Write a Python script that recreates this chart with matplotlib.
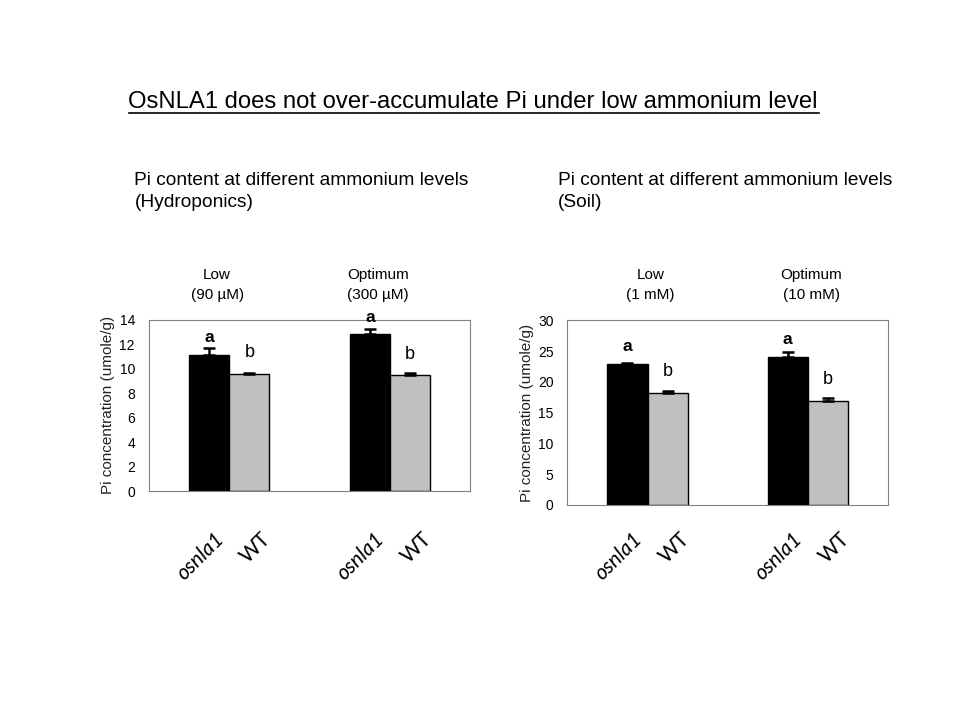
import numpy as np
import matplotlib
matplotlib.use("Agg")
import matplotlib.pyplot as plt
import matplotlib.transforms as mtransforms

plt.rcParams['font.family'] = ['Liberation Sans', 'DejaVu Sans']

# data
genotypes = ['osnla1', 'WT']
hydro_conditions = ['Low\n(90 µM)', 'Optimum\n(300 µM)']
hydro_osnla1 = [11.15, 12.8]
hydro_osnla1_err = [0.5, 0.4]
hydro_wt = [9.6, 9.45]
hydro_wt_err = [0.05, 0.2]
hydro_letters = [['a', 'b'], ['a', 'b']]

soil_conditions = ['Low\n(1 mM)', 'Optimum\n(10 mM)']
soil_osnla1 = [22.9, 24.1]
soil_osnla1_err = [0.15, 0.8]
soil_wt = [18.25, 16.95]
soil_wt_err = [0.3, 0.45]
soil_letters = [['a', 'b'], ['a', 'b']]

fig = plt.figure(figsize=(9.6, 7.2), dpi=100)

fig.text(0.492, 0.858, 'OsNLA1 does not over-accumulate Pi under low ammonium level',
         ha='center', va='center', fontsize=17.2)
fig.add_artist(plt.Line2D([0.134, 0.853], [0.843, 0.843], color='black', lw=1.2))

fig.text(0.140, 0.734, 'Pi content at different ammonium levels\n(Hydroponics)',
         ha='left', va='center', fontsize=13.8, linespacing=1.4)
fig.text(0.581, 0.734, 'Pi content at different ammonium levels\n(Soil)',
         ha='left', va='center', fontsize=13.8, linespacing=1.4)


def panel(rect, cond, cond_shift, mut, mut_err, wt, wt_err, letters, ymax, ystep):
    ax = fig.add_axes(rect)
    x = np.array([1, 3])
    w = 0.5
    ekw = dict(ecolor='black', capsize=4, capthick=1.8, elinewidth=1.8)
    ax.bar(x - w / 2, mut, w, color='black', edgecolor='black', lw=1,
           yerr=[np.zeros(2), mut_err], error_kw=ekw)
    ax.bar(x + w / 2, wt, w, color='#c0c0c0', edgecolor='black', lw=1,
           yerr=[np.zeros(2), wt_err], error_kw=ekw)
    ax.set_xlim(0, 4)
    ax.set_ylim(0, ymax)
    ax.set_yticks(np.arange(0, ymax + 1, ystep))
    ax.set_xticks([])
    ax.tick_params(axis='y', length=0, labelsize=10, pad=10)
    for s in ax.spines.values():
        s.set_color('#808080')
    ax.set_ylabel('Pi concentration (umole/g)', fontsize=11, labelpad=3, color='#222222')
    tr = mtransforms.blended_transform_factory(ax.transData, ax.transAxes)
    trf = mtransforms.blended_transform_factory(ax.transData, fig.transFigure)
    for i in range(2):
        ax.annotate(letters[i][0], (x[i] - w / 2, mut[i]), xytext=(0, 7),
                    textcoords='offset points', ha='center', va='bottom',
                    fontsize=12.5, fontweight='bold')
        ax.annotate(letters[i][1], (x[i] + w / 2, wt[i]), xytext=(0, 9),
                    textcoords='offset points', ha='center', va='bottom', fontsize=13)
        ax.annotate(cond[i], (x[i] + cond_shift, 1.0), xycoords=tr, xytext=(0, 13),
                    textcoords='offset points', ha='center', va='bottom',
                    fontsize=11, linespacing=1.55)
        ax.text(x[i] - w / 2 - 0.11, 0.265, genotypes[0], transform=trf, rotation=45,
                ha='center', va='top', fontsize=15, style='italic', family='Lato')
        ax.text(x[i] + w / 2 + 0.08, 0.265, genotypes[1], transform=trf, rotation=45,
                ha='center', va='top', fontsize=15, family='Lato')
    return ax


ax1 = panel([0.155, 0.318, 0.335, 0.238], hydro_conditions, -0.15, hydro_osnla1, hydro_osnla1_err,
            hydro_wt, hydro_wt_err, hydro_letters, 14, 2)
ax2 = panel([0.591, 0.299, 0.334, 0.256], soil_conditions, 0.04, soil_osnla1, soil_osnla1_err,
            soil_wt, soil_wt_err, soil_letters, 30, 5)

fig.savefig('out.png', dpi=100)
